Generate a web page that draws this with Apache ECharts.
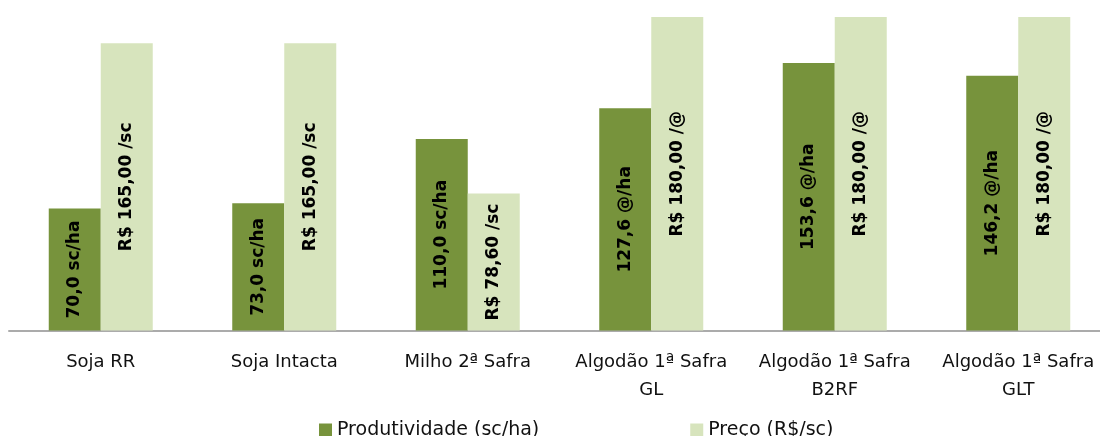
<!DOCTYPE html>
<html>
<head>
<meta charset="utf-8">
<script src="https://cdn.jsdelivr.net/npm/echarts@6/dist/echarts.min.js"></script>
<style>
  html, body { margin: 0; padding: 0; background: #fff; }
  #chart { width: 1100px; height: 436px; }
</style>
</head>
<body>
<div id="chart"></div>
<script>
// categorias e valores
const categorias = ['Soja RR', 'Soja Intacta', 'Milho 2ª Safra', 'Algodão 1ª Safra\nGL', 'Algodão 1ª Safra\nB2RF', 'Algodão 1ª Safra\nGLT'];
const produtividade = [70.0, 73.0, 110.0, 127.6, 153.6, 146.2];
const unidadeProd = ['sc/ha', 'sc/ha', 'sc/ha', '@/ha', '@/ha', '@/ha'];
const preco = [165.00, 165.00, 78.60, 180.00, 180.00, 180.00];
const unidadePreco = ['/sc', '/sc', '/sc', '/@', '/@', '/@'];

const fmt = (v, d) => v.toFixed(d).replace('.', ',');

const chart = echarts.init(document.getElementById('chart'));

chart.setOption({
  animation: false,
  textStyle: { fontFamily: 'DejaVu Sans' },
  // a área do gráfico passa um pouco da borda direita
  grid: { left: 9, width: 1101, top: 17, bottom: 105.5, outerBoundsMode: 'none' },
  legend: {
    left: 314,
    top: 415,
    itemWidth: 13,
    itemHeight: 13,
    itemGap: 151,
    icon: 'rect',
    textStyle: { fontSize: 19, color: '#111', lineHeight: 20 },
    data: ['Produtividade (sc/ha)', 'Preço (R$/sc)']
  },
  xAxis: {
    type: 'category',
    data: categorias,
    axisLine: { lineStyle: { color: '#ababab', width: 2 } },
    axisTick: { show: false },
    axisLabel: { fontSize: 18, lineHeight: 28, color: '#111', margin: 18, interval: 0 }
  },
  yAxis: {
    type: 'value',
    min: 0,
    max: 180,
    show: false,
    splitLine: { show: false }
  },
  series: [
    {
      name: 'Produtividade (sc/ha)',
      type: 'bar',
      barWidth: 52,
      barGap: '0%',
      itemStyle: { color: '#77933C' },
      data: produtividade,
      label: {
        show: true,
        position: 'inside',
        rotate: 90,
        fontSize: 17,
        fontWeight: 'bold',
        color: '#000',
        formatter: p => fmt(p.value, 1) + ' ' + unidadeProd[p.dataIndex]
      }
    },
    {
      name: 'Preço (R$/sc)',
      type: 'bar',
      barWidth: 52,
      itemStyle: { color: '#D7E4BD' },
      data: preco,
      label: {
        show: true,
        position: 'inside',
        rotate: 90,
        fontSize: 17,
        fontWeight: 'bold',
        color: '#000',
        formatter: p => 'R$ ' + fmt(p.value, 2) + ' ' + unidadePreco[p.dataIndex]
      }
    }
  ]
});
</script>
</body>
</html>
